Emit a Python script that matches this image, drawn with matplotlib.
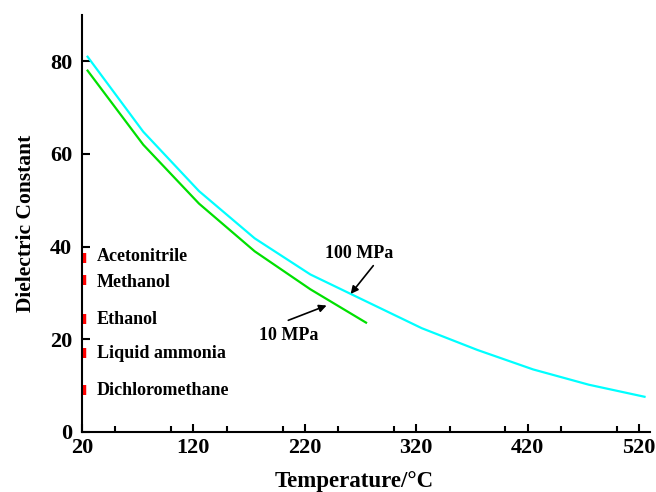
import matplotlib
matplotlib.use("Agg")
import matplotlib.pyplot as plt
from matplotlib.ticker import MultipleLocator

plt.rcParams['font.family'] = ['Liberation Serif', 'DejaVu Serif']
plt.rcParams['font.weight'] = 'bold'

# Data
temp_100 = [25, 75, 125, 175, 225, 275, 325, 375, 425, 475, 525]
eps_100 = [81.0, 64.8, 52.0, 41.8, 34.0, 28.2, 22.4, 17.7, 13.5, 10.2, 7.6]
temp_10 = [25, 75, 125, 175, 225, 275]
eps_10 = [78.0, 62.0, 49.3, 39.0, 30.8, 23.6]

solvents = ["Acetonitrile", "Methanol", "Ethanol", "Liquid ammonia", "Dichloromethane"]
solvent_eps = [37.5, 32.7, 24.3, 17.0, 9.1]
solvent_label_y = [37.8, 32.3, 24.2, 17.0, 8.9]

xticks = [20, 120, 220, 320, 420, 520]
yticks = [0, 20, 40, 60, 80]

fig = plt.figure(figsize=(6.56, 4.92), dpi=100)
ax = fig.add_axes([0.125, 0.122, 0.866, 0.8475])

ax.plot(temp_100, eps_100, color='#00FFFF', lw=1.6)
ax.plot(temp_10, eps_10, color='#00E000', lw=1.6)

ax.plot([22] * len(solvent_eps), solvent_eps, linestyle='none', marker='|',
        markersize=7, markeredgewidth=3.2, color='red', clip_on=False)
for name, y in zip(solvents, solvent_label_y):
    ax.text(33.5, y, name, fontsize=13, fontweight='bold', va='center', ha='left')

arrow_style = dict(arrowstyle='-|>', color='black', lw=1.2,
                   mutation_scale=11, shrinkA=0, shrinkB=0)
ax.text(268.7, 38.5, '100 MPa', fontsize=13, fontweight='bold', ha='center', va='center')
ax.annotate('', xy=(261.2, 29.8), xytext=(281.5, 35.9), arrowprops=arrow_style)
ax.text(205.8, 20.9, '10 MPa', fontsize=13, fontweight='bold', ha='center', va='center')
ax.annotate('', xy=(239.6, 27.3), xytext=(205.2, 24.1), arrowprops=arrow_style)

ax.set_xlim(20, 530)
ax.set_ylim(0, 90)
ax.set_xticks(xticks)
ax.set_yticks(yticks)
ax.xaxis.set_minor_locator(MultipleLocator(50))

for s in ['top', 'right']:
    ax.spines[s].set_visible(False)
for s in ['left', 'bottom']:
    ax.spines[s].set_linewidth(1.5)

ax.tick_params(axis='both', which='major', direction='in', length=6, width=1.5,
               labelsize=16)
ax.tick_params(axis='x', which='major', pad=4)
ax.tick_params(axis='y', which='major', pad=7)
ax.tick_params(axis='x', which='minor', direction='in', length=4, width=1.5)
for lab in ax.get_xticklabels() + ax.get_yticklabels():
    lab.set_fontweight('bold')

ax.set_xlabel('Temperature/°C', fontsize=16.5, fontweight='bold')
ax.xaxis.set_label_coords(0.479, -0.118, transform=ax.transAxes)
ax.xaxis.label.set_va('center')
ax.set_ylabel('Dielectric Constant', fontsize=15.5, fontweight='bold', labelpad=10)

fig.savefig('out.png', dpi=100)
